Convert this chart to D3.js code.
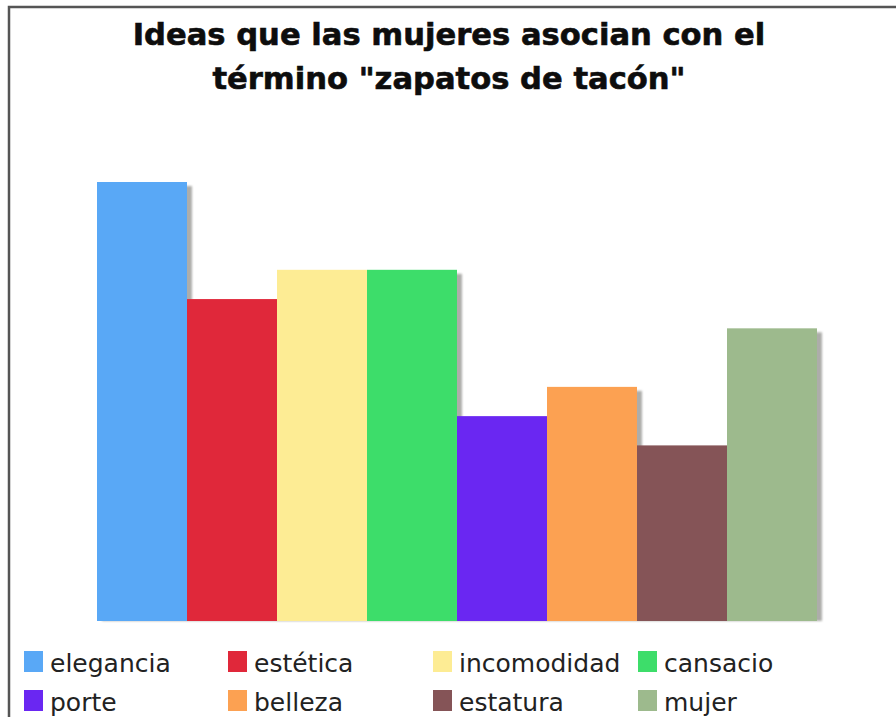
<!DOCTYPE html>
<html>
<head>
<meta charset="utf-8">
<script src="https://cdn.jsdelivr.net/npm/d3@7"></script>
<style>
  html, body { margin: 0; padding: 0; background: #fff; overflow: hidden; }
  svg { display: block; }
</style>
</head>
<body>
<svg id="chart" width="896" height="717"></svg>
<script>
// Answers and their counts
const categories = ["elegancia", "estética", "incomodidad", "cansacio", "porte", "belleza", "estatura", "mujer"];
const values = [15, 11, 12, 12, 7, 8, 6, 10];
const colors = ["#59a8f6", "#e0283a", "#fdec94", "#3ddd6a", "#6a27f2", "#fca152", "#855457", "#9dba8d"];
const titleLines = ["Ideas que las mujeres asocian con el", "término \"zapatos de tacón\""];

const svg = d3.select("#chart");
const W = 896, H = 717;

svg.append("rect").attr("width", W).attr("height", H).attr("fill", "#fff");

// frame (continues past the right and bottom edges)
svg.append("rect")
  .attr("x", 9).attr("y", 7)
  .attr("width", W + 20).attr("height", H + 20)
  .attr("fill", "none")
  .attr("stroke", "#555")
  .attr("stroke-width", 2.5);

// title
svg.append("g").selectAll("text")
  .data(titleLines)
  .join("text")
  .attr("x", 449)
  .attr("y", (d, i) => 45 + i * 44)
  .attr("text-anchor", "middle")
  .attr("font-family", "DejaVu Sans, Verdana, sans-serif")
  .attr("font-weight", "bold")
  .attr("font-size", 30.6)
  .attr("fill", "#0d0d0d")
  .attr("stroke", "#0d0d0d")
  .attr("stroke-width", 0.6)
  .text(d => d);

// scales
const x = d3.scaleBand().domain(categories).range([97, 817]).padding(0);
const y = d3.scaleLinear().domain([0, 15]).range([621, 182]);

const data = categories.map((c, i) => ({ cat: c, value: values[i], color: colors[i] }));

// soft drop shadows behind the bars
const defs = svg.append("defs");
defs.append("filter").attr("id", "soft")
  .append("feGaussianBlur").attr("stdDeviation", 0.8);

svg.append("g")
  .attr("filter", "url(#soft)")
  .selectAll("rect")
  .data(data)
  .join("rect")
  .attr("x", d => x(d.cat) + 5)
  .attr("y", d => y(d.value) + 4)
  .attr("width", x.bandwidth())
  .attr("height", d => y(0) - y(d.value) - 4)
  .attr("fill", "#adadaa");

// bars
svg.append("g")
  .selectAll("rect")
  .data(data)
  .join("rect")
  .attr("x", d => x(d.cat))
  .attr("y", d => y(d.value))
  .attr("width", x.bandwidth())
  .attr("height", d => y(0) - y(d.value))
  .attr("fill", d => d.color);

// legend: 4 columns, 2 rows
const colX = [24, 228, 433, 638];
const rowY = [672, 711];
const legend = svg.append("g")
  .selectAll("g")
  .data(data)
  .join("g")
  .attr("transform", (d, i) => `translate(${colX[i % 4]},${rowY[Math.floor(i / 4)]})`);

legend.append("rect")
  .attr("x", 0).attr("y", -21)
  .attr("width", 19).attr("height", 21)
  .attr("fill", d => d.color);

legend.append("text")
  .attr("x", 26).attr("y", 0)
  .attr("font-family", "DejaVu Sans, Verdana, sans-serif")
  .attr("font-size", 25)
  .attr("fill", "#222")
  .text(d => d.cat);
</script>
</body>
</html>
